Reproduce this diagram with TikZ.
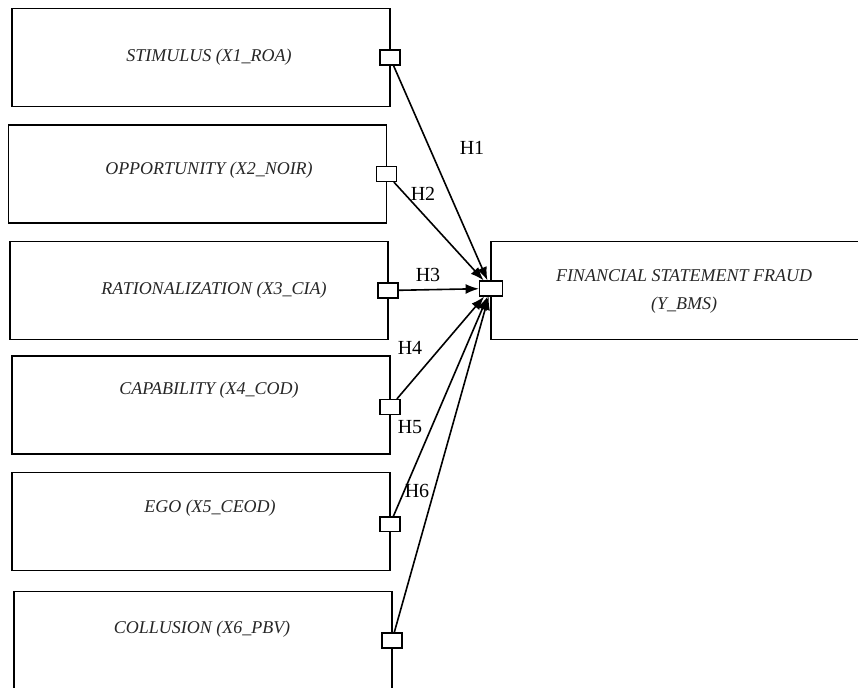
\documentclass[tikz,border=0pt]{standalone}
\usepackage{fontspec}
\setmainfont{Liberation Serif}
\usetikzlibrary{arrows.meta}

\begin{document}
\begin{tikzpicture}[x=0.75pt, y=-0.75pt, >={Latex[length=10pt, width=7.5pt]},
  factor/.style={draw, line width=1.4pt, minimum width=283.5pt,
        minimum height=73.5pt, inner sep=0pt, outer sep=0pt},
  ftext/.style={font=\fontsize{13.5}{21}\selectfont\itshape, align=center,
        text=black!85},
  port/.style={draw, fill=white, line width=1.1pt, minimum width=15pt,
        minimum height=11pt, inner sep=0pt},
  hlab/.style={font=\fontsize{15}{18}\selectfont, inner sep=0pt},
  arr/.style={->, line width=1.2pt}]
  \useasboundingbox (0,0) rectangle (858,688);
  \clip (0,0) rectangle (858,688);
  \fill[white] (0,0) rectangle (858,688);
  % Independent variables (fraud hexagon)
  \node[factor] (x1) at (201, 57.5) {};
  \node[factor] (x2) at (197.5, 174) {};
  \node[factor] (x3) at (199, 290.5) {};
  \node[factor] (x4) at (201, 405) {};
  \node[factor] (x5) at (201, 521.5) {};
  \node[factor] (x6) at (203, 640.5) {};
  \node[ftext] (t1) at (209, 57) {STIMULUS (X1\_ROA)};
  \node[ftext] (t2) at (209, 170) {OPPORTUNITY (X2\_NOIR)};
  \node[ftext] (t3) at (214, 290) {RATIONALIZATION (X3\_CIA)};
  \node[ftext] (t4) at (209, 390) {CAPABILITY (X4\_COD)};
  \node[ftext] (t5) at (210, 508) {EGO (X5\_CEOD)};
  \node[ftext] (t6) at (202, 629) {COLLUSION (X6\_PBV)};
  % Dependent variable
  \node[factor] (y) at (680, 290.5) {};
  \node[ftext] (ty) at (684, 291) {FINANCIAL STATEMENT FRAUD\\(Y\_BMS)};
  % Ports on the box edges
  \node[port] (p1) at (x1.east) {};
  \node[port] (p2) at (x2.east) {};
  \node[port] (p3) at (x3.east) {};
  \node[port] (p4) at ([yshift=-1.5]x4.east) {};
  \node[port] (p5) at ([yshift=-2]x5.east) {};
  \node[port] (p6) at (x6.east) {};
  \node[port, minimum width=17pt] (py) at ([yshift=1.5]y.west) {};
  % Hypothesis paths
  \draw[arr] (p1) -- (py);
  \draw[arr] (p2) -- (py);
  \draw[arr] (p3) -- (py);
  \draw[arr] (p4) -- (py);
  \draw[arr] (p5) -- (py);
  \draw[arr] (p6) -- (py);
  \node[hlab] (h1) at (472, 148) {H1};
  \node[hlab] (h2) at (423, 194) {H2};
  \node[hlab] (h3) at (428, 275) {H3};
  \node[hlab] (h4) at (410, 348) {H4};
  \node[hlab] (h5) at (410, 427) {H5};
  \node[hlab] (h6) at (417, 491) {H6};
\end{tikzpicture}
\end{document}
